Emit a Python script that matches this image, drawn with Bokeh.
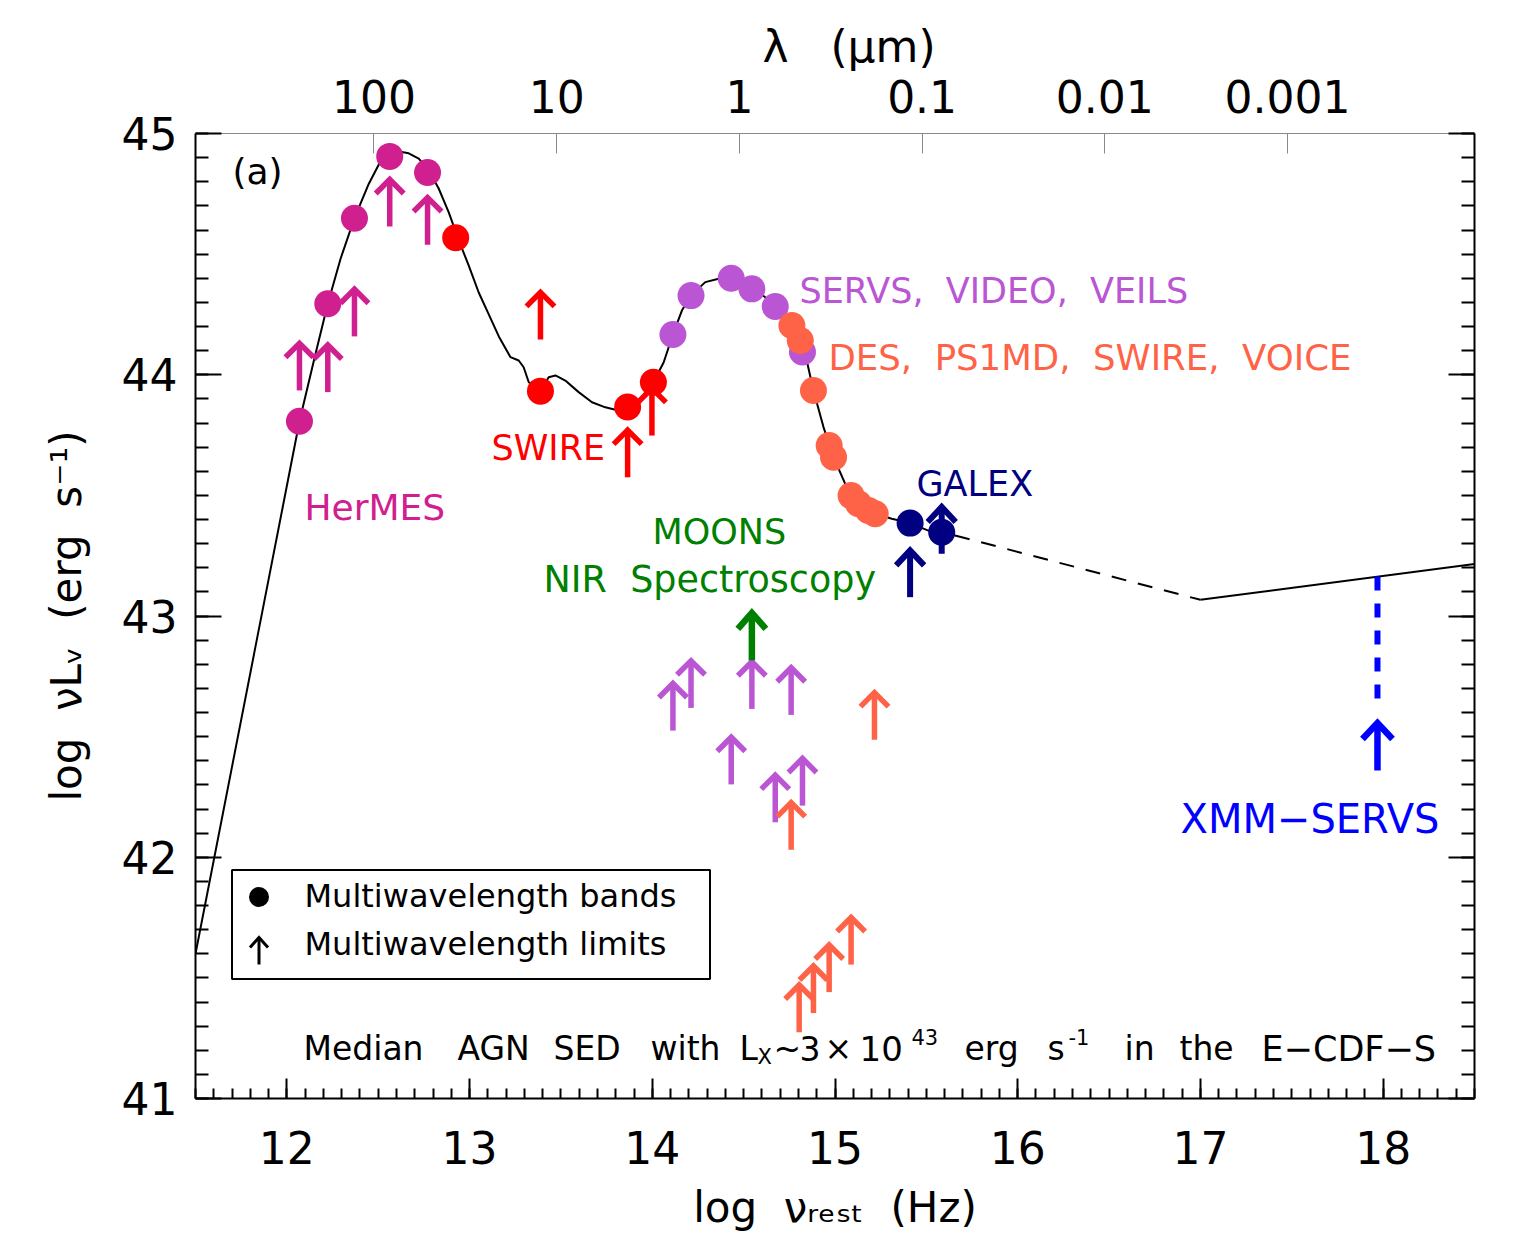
import numpy as np
from bokeh.plotting import figure
from bokeh.models import Range1d, LinearAxis, FixedTicker, Label
from bokeh.embed import file_html
from bokeh.resources import INLINE

FONT = "DejaVu Sans"

# ---------------------------------------------------------------- data
# median SED template: log nu_rest [Hz] vs log nu L_nu [erg s^-1]
sed_lognu = [11.50, 12.069, 12.148, 12.224, 12.294, 12.370, 12.448, 12.509, 12.563,
             12.613, 12.667, 12.722, 12.777, 12.831, 12.886, 12.941, 12.995, 13.050,
             13.105, 13.160, 13.224, 13.269, 13.296, 13.324, 13.388, 13.433, 13.470,
             13.524, 13.597, 13.670, 13.743, 13.798, 13.865, 13.943, 14.006, 14.062,
             14.113, 14.162, 14.211, 14.290, 14.363, 14.432, 14.527, 14.618, 14.709,
             14.782, 14.837, 14.882, 14.937, 14.992, 15.056, 15.129, 15.220, 15.311,
             15.411, 15.511, 15.657]
sed_logl = [41.60, 43.807, 44.059, 44.294, 44.481, 44.649, 44.791, 44.880, 44.913,
            44.925, 44.918, 44.896, 44.847, 44.772, 44.673, 44.557, 44.453, 44.341,
            44.250, 44.159, 44.073, 44.059, 44.031, 43.969, 43.934, 43.990, 43.997,
            43.976, 43.928, 43.886, 43.865, 43.855, 43.860, 43.907, 43.969, 44.051,
            44.167, 44.266, 44.328, 44.384, 44.398, 44.400, 44.377, 44.321, 44.239,
            44.170, 44.087, 43.935, 43.783, 43.658, 43.548, 43.465, 43.424, 43.403,
            43.385, 43.354, 43.334]

# unobserved EUV gap (dashed) and the X-ray power law
euv_lognu = [15.657, 17.0]
euv_logl = [43.334, 43.067]
xray_lognu = [17.0, 18.5]
xray_logl = [43.067, 43.216]

# detected bands
hermes_nu = [12.069, 12.224, 12.370, 12.563, 12.770]
hermes_l = [43.807, 44.294, 44.649, 44.905, 44.838]
swire_nu = [12.924, 13.388, 13.865, 14.006]
swire_l = [44.568, 43.932, 43.866, 43.969]
servs_nu = [14.113, 14.212, 14.432, 14.545, 14.673, 14.822]
servs_l = [44.167, 44.328, 44.400, 44.356, 44.283, 44.094]
optical_nu = [14.764, 14.810, 14.882, 14.968, 14.992, 15.088, 15.129, 15.183, 15.220]
optical_l = [44.204, 44.142, 43.935, 43.707, 43.658, 43.499, 43.465, 43.437, 43.424]
galex_nu = [15.411, 15.584]
galex_l = [43.385, 43.347]

# limiting sensitivities
hermes_lim_nu = [12.069, 12.224, 12.370, 12.563, 12.770]
hermes_lim_l = [43.935, 43.928, 44.159, 44.614, 44.539]
swire_lim_nu = [13.388, 13.865, 13.998]
swire_lim_l = [44.146, 43.575, 43.748]
servs_lim_nu = [14.113, 14.212, 14.432, 14.545, 14.673, 14.760, 14.822]
servs_lim_l = [42.525, 42.619, 42.302, 42.615, 42.145, 42.590, 42.214]
optical_lim_nu = [14.760, 15.216, 14.804, 14.882, 14.968, 15.088]
optical_lim_l = [42.031, 42.487, 41.275, 41.354, 41.441, 41.555]
galex_lim_nu = [15.411, 15.584]
galex_lim_l = [43.078, 43.258]
moons_lim_nu = [14.545]
moons_lim_l = [42.816]
xmm_lim_nu = [17.969]
xmm_lim_l = [42.36]

# axis ticks
x_ticks = [12, 13, 14, 15, 16, 17, 18]
y_ticks = [41, 42, 43, 44, 45]
lam_ticks_um = [100, 10, 1, 0.1, 0.01, 0.001]
lam_labels = ["100", "10", "1", "0.1", "0.01", "0.001"]

# colours
C_HERMES = "#D02090"
C_SWIRE = "#FF0000"
C_SERVS = "#BA55D3"
C_OPT = "#FF6347"
C_GALEX = "#000080"
C_MOONS = "#008000"
C_XMM = "#0000FF"

# ---------------------------------------------------------------- geometry
W, H = 1515, 1248
FL, FR, FT, FB = 195, 1474, 133, 1098          # frame edges (px)
X0, X1, Y0, Y1 = 11.5, 18.5, 41.0, 45.0
XPX = (FR - FL) / (X1 - X0)
YPX = (FB - FT) / (Y1 - Y0)


def xd(px):
    return X0 + (px - FL) / XPX


def yd(py):
    return Y1 - (py - FT) / YPX


p = figure(width=W, height=H, x_range=Range1d(X0, X1), y_range=Range1d(Y0, Y1),
           output_backend="svg", toolbar_location=None,
           x_axis_location=None, y_axis_location=None,
           min_border_left=FL, min_border_right=W - FR,
           min_border_top=FT, min_border_bottom=H - FB)
p.outline_line_color = None
p.grid.visible = False
p.background_fill_color = "white"
p.border_fill_color = "white"


def make_axis(major, minor, tick_in, minor_in, color="black", lw=2, labels=True):
    ax = LinearAxis(ticker=FixedTicker(ticks=list(major), minor_ticks=list(minor)))
    ax.axis_line_color = color
    ax.axis_line_width = lw
    ax.major_tick_in = tick_in
    ax.major_tick_out = 0
    ax.minor_tick_in = minor_in
    ax.minor_tick_out = 0
    ax.major_tick_line_color = color
    ax.major_tick_line_width = lw
    ax.minor_tick_line_color = color
    ax.minor_tick_line_width = lw
    ax.major_label_text_font = FONT
    ax.major_label_text_font_size = "44px"
    ax.major_label_text_color = "black" if labels else None
    ax.axis_label_text_font = FONT
    ax.axis_label_text_font_style = "normal"
    ax.axis_label_text_color = "black"
    return ax


x_minor = [round(11.5 + 0.1 * i, 2) for i in range(71)]
y_minor = [round(41 + 0.1 * i, 2) for i in range(41)]

bottom = make_axis(x_ticks, x_minor, 20, 10)
bottom.major_label_standoff = 32
bottom.axis_label = "log\u00a0 \u03bd\u1d63\u2091\u209b\u209c\u00a0 (Hz)"
bottom.axis_label_text_font_size = "42px"
bottom.axis_label_standoff = 16
p.add_layout(bottom, "below")

left = make_axis(y_ticks, y_minor, 26, 13)
left.major_label_standoff = 18
left.axis_label = "log\u00a0 \u03bdL\u1d65\u00a0 (erg\u00a0 s\u207b\u00b9)"
left.axis_label_text_font_size = "42px"
left.axis_label_standoff = 28
p.add_layout(left, "left")

p.add_layout(make_axis(y_ticks, y_minor, 26, 13, labels=False), "right")

LOG_C_UM = np.log10(2.998e14)   # speed of light in micron / s
lam_pos = [float(LOG_C_UM - np.log10(l)) for l in lam_ticks_um]
top = make_axis(lam_pos, [], 20, 0, color="#8a8a8a", lw=1)
top.major_label_text_color = "black"
top.major_label_overrides = {pos: txt for pos, txt in zip(lam_pos, lam_labels)}
top.major_label_standoff = 21
# leading no-break spaces nudge the centred title a little to the right
top.axis_label = "\u00a0\u00a0\u03bb\u00a0\u00a0 (\u03bcm)"
top.axis_label_text_font_size = "44px"
top.axis_label_standoff = 5
p.add_layout(top, "above")


def label(px, cy, text, size, color="black", align="left"):
    # cy: vertical centre of the capitals, in px from the top of the canvas
    p.add_layout(Label(x=xd(px), y=yd(cy), text=text, text_font=FONT,
                       text_font_size=f"{size}px", text_color=color,
                       text_align=align, text_baseline="middle"))


# ---------------------------------------------------------------- SED curve
p.line(sed_lognu, sed_logl, line_color="black", line_width=2)
p.line(euv_lognu, euv_logl, line_color="black", line_width=2, line_dash="15 12")
p.line(xray_lognu, xray_logl, line_color="black", line_width=2)


def arrows(nu, lum, color, lw=5.5, length=51, head_w=14, head_h=14):
    nu = np.asarray(nu, dtype=float)
    lum = np.asarray(lum, dtype=float)
    # the mitred chevron pokes out past its vertex; keep the visible tip at `length`
    tip = lum + (length - 0.7 * lw) / YPX
    p.segment(nu, lum, nu, tip, line_color=color, line_width=lw, line_cap="butt")
    hw, hh = head_w / XPX, head_h / YPX
    xs = [[x - hw, x, x + hw] for x in nu]
    ys = [[t - hh, t, t - hh] for t in tip]
    p.multi_line(xs, ys, line_color=color, line_width=lw, line_join="miter")
    return lum + length / YPX


# X-ray sensitivity: dashed drop from the power law towards the limit arrow
xmm_top = arrows(xmm_lim_nu, xmm_lim_l, C_XMM, lw=6.5, length=52, head_w=15, head_h=16)
xmm_curve = np.interp(xmm_lim_nu, xray_lognu, xray_logl)
p.segment(xmm_lim_nu, xmm_curve, xmm_lim_nu, xmm_top + 10 / YPX,
          line_color=C_XMM, line_width=6, line_dash="14 13")

arrows(hermes_lim_nu, hermes_lim_l, C_HERMES)
arrows(swire_lim_nu, swire_lim_l, C_SWIRE)
arrows(servs_lim_nu, servs_lim_l, C_SERVS)
arrows(optical_lim_nu, optical_lim_l, C_OPT)
arrows(moons_lim_nu, moons_lim_l, C_MOONS, lw=6.5, length=52, head_w=14, head_h=16)
arrows(galex_lim_nu, galex_lim_l, C_GALEX, lw=6, length=51, head_w=14, head_h=15)

for nu, lum, col in ((hermes_nu, hermes_l, C_HERMES), (swire_nu, swire_l, C_SWIRE),
                     (servs_nu, servs_l, C_SERVS), (optical_nu, optical_l, C_OPT),
                     (galex_nu, galex_l, C_GALEX)):
    p.scatter(nu, lum, size=27, fill_color=col, line_color=None)

# ---------------------------------------------------------------- annotations
label(232, 171, "(a)", 36)
label(304, 507, "HerMES", 36, C_HERMES)
label(491, 447, "SWIRE", 35, C_SWIRE)
label(799, 290, "SERVS,\u00a0 VIDEO,\u00a0 VEILS", 35, C_SERVS)
label(828, 357, "DES,\u00a0 PS1MD,\u00a0 SWIRE,\u00a0 VOICE", 35.5, C_OPT)
label(916, 483, "GALEX", 35, C_GALEX)
label(652, 531, "MOONS", 35, C_MOONS)
label(543, 579, "NIR\u00a0 Spectroscopy", 36.5, C_MOONS)
label(1180, 818, "XMM\u2212SERVS", 40, C_XMM)

# legend box
p.quad(left=[xd(231.5)], right=[xd(709.5)], top=[yd(869.5)], bottom=[yd(978.5)],
       fill_color="white", line_color="black", line_width=2)
p.scatter([xd(258.5)], [yd(896.5)], size=20, fill_color="black", line_color=None)
lx = xd(258.5)
p.segment([lx], [yd(964)], [lx], [yd(937)], line_color="black", line_width=3)
p.multi_line([[lx - 9 / XPX, lx, lx + 9 / XPX]], [[yd(947), yd(937), yd(947)]],
             line_color="black", line_width=3, line_join="miter")
label(304, 895, "Multiwavelength bands", 32)
label(304, 943, "Multiwavelength limits", 32)

# caption, word by word so the wide spacing is kept
for px, text, size, shift in ((303, "Median", 33, 0), (457, "AGN", 33, 0),
                              (553, "SED", 33, 0), (650, "with", 33, 0),
                              (739, "L", 33, 0), (757, "X", 21, 8),
                              (773, "~", 33, 0), (799, "3", 33, 0),
                              (824, "\u00d7", 33, 0), (859, "10", 34, 0),
                              (911, "43", 21, -12), (964, "erg", 33, 0),
                              (1047, "s", 33, 0), (1068, "-1", 21, -12),
                              (1124, "in", 33, 0), (1179, "the", 33, 0),
                              (1261, "E\u2212CDF\u2212S", 35, 0)):
    label(px, 1048 + shift, text, size)

open("out.html", "w").write(file_html(p, INLINE))
